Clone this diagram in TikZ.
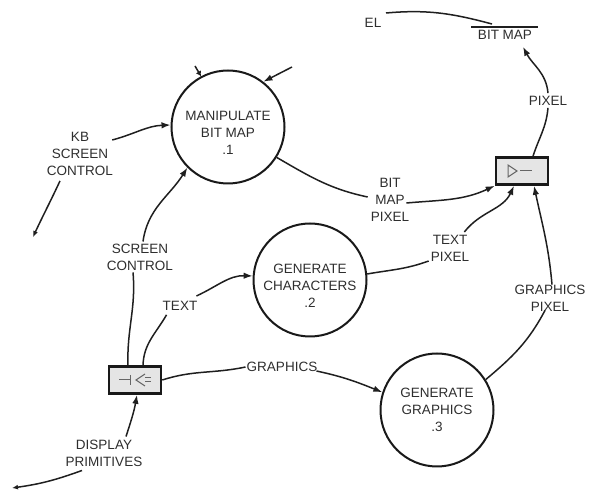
\documentclass[tikz,border=0pt]{standalone}
\usepackage{fontspec}
\setmainfont{Liberation Sans}
\usetikzlibrary{arrows.meta,calc}
\newcommand{\lowerby}{\rule{0pt}{22pt}}
\begin{document}
\begin{tikzpicture}[x=1pt,y=-1pt,
  lbl/.style={font=\fontsize{13.5}{17}\selectfont, align=center, inner sep=1pt, text=black!82},
  proc/.style={circle, draw=black!90, line width=2pt, minimum size=113pt, inner sep=0pt, align=center, text=black!82, font=\fontsize{13.5}{17}\selectfont},
  flow/.style={draw=black!88, line width=1.5pt, -{Latex[length=9pt,width=6.5pt]}},
  plainflow/.style={draw=black!88, line width=1.5pt},
  mux/.style={draw=black!90, line width=2.6pt, fill=black!10, minimum width=52pt, minimum height=27pt, inner sep=0pt},
  sym/.style={draw=black!60, line width=1pt}
]
\useasboundingbox (0,0) rectangle (590,494);

% processes
\node[proc] (c1) at (228,127) {\lowerby MANIPULATE\\BIT MAP\\.1};
\node[proc] (c2) at (310,280) {\lowerby GENERATE\\CHARACTERS\\.2};
\node[proc] (c3) at (437,410) {GENERATE\\GRAPHICS\\.3};

% boxes
\node[mux] (bx2) at (522,171) {};
\node[mux] (bx1) at (135,380) {};
\draw[sym] ($(bx2)+(-14,-6)$) -- ($(bx2)+(-5,0)$) -- ($(bx2)+(-14,6)$) -- cycle;
\draw[sym] ($(bx2)+(-2,0)$) -- ($(bx2)+(10,0)$);
\draw[sym] ($(bx1)+(-16,0)$) -- ($(bx1)+(-5,0)$);
\draw[sym] ($(bx1)+(-5,-5)$) -- ($(bx1)+(-5,5)$);
\draw[sym] ($(bx1)+(10,-6)$) -- ($(bx1)+(1,0)$) -- ($(bx1)+(10,6)$);
\draw[sym] ($(bx1)+(10,-2)$) -- ($(bx1)+(16,-2)$);
\draw[sym] ($(bx1)+(10,2)$) -- ($(bx1)+(16,2)$);

% labels
\node[lbl] (kb) at (80,154) {KB\\SCREEN\\CONTROL};
\node[lbl] (sc) at (140,257) {SCREEN\\CONTROL};
\node[lbl] (tx) at (180,306) {TEXT};
\node[lbl] (gr) at (282,367) {GRAPHICS};
\node[lbl] (dp) at (104,453) {DISPLAY\\PRIMITIVES};
\node[lbl] (bmp) at (390,200) {BIT\\MAP\\PIXEL};
\node[lbl] (tp) at (450,248) {TEXT\\PIXEL};
\node[lbl] (gp) at (550,298) {GRAPHICS\\PIXEL};
\node[lbl] (px) at (548,101) {PIXEL};
\node[lbl] (bm) at (505,35) {BIT MAP};
\node[lbl] (el) at (373,23) {EL};
\draw[plainflow, line width=1.2pt] (471,27) -- (538,27);

% free ends
\coordinate (kbend) at (33,237);
\coordinate (dpend) at (12,488);
\coordinate (elend) at (386,13);
\coordinate (bmstart) at (492,24);
\coordinate (topa) at (292,67);
\coordinate (topb) at (195,66);

% connectors
\draw[flow] (kb.east) ++(-2,-14) to[out=15,in=182] (c1.178);
\draw[flow,-{Latex[length=6pt,width=5pt]}] ($(kb.south)+(-20,4)$) to[out=-115,in=65] (kbend);
\draw[plainflow] ($(bx1.north)+(-7,0)$) to[out=92,in=-85] ($(sc.south)+(-7,1)$);
\draw[flow] ($(sc.north)+(3,-1)$) to[out=82,in=-122] (c1.-135);
\draw[plainflow] ($(bx1.north)+(8,0)$) to[out=88,in=-120] ($(tx.south west)+(5,3)$);
\draw[flow] ($(tx.east)+(-2,-10)$) to[out=25,in=178] (c2.176);
\draw[plainflow] (bx1.east) to[out=18,in=192] (gr.west);
\draw[flow] ($(gr.east)+(-2,4)$) to[out=-12,in=158] (c3.162);
\draw[flow] ($(dp.north)+(22,-2)$) to[out=72,in=-100] ($(bx1.south)+(2,0)$);
\draw[flow,-{Latex[length=6pt,width=5pt]}] ($(dp.south)+(-22,3)$) to[out=200,in=8] (dpend);
\draw[plainflow] (c1.-32) to[out=-30,in=168] ($(bmp.west)+(-2,-3)$);
\draw[flow] ($(bmp.east)+(-4,3)$) to[out=5,in=205] (bx2.south west);
\draw[plainflow] (c2.6) to[out=10,in=200] ($(tp.west)+(-1,13)$);
\draw[flow] ($(tp.east)+(-6,-16)$) to[out=52,in=-115] ($(bx2.south)+(-8,0)$);
\draw[plainflow] (c3.32) to[out=40,in=-118] ($(gp.south)+(-5,-2)$);
\draw[flow] ($(gp.north)+(2,1)$) to[out=95,in=-78] ($(bx2.south)+(12,0)$);
\draw[plainflow] ($(bx2.north)+(11,0)$) to[out=72,in=-95] ($(px.south)+(0,1)$);
\draw[flow] ($(px.north)+(0,-2)$) to[out=95,in=-62] ($(bm.south)+(18,6)$);
\draw[plainflow] (bmstart) to[out=165,in=5] (elend);
\draw[flow] (topa) -- (c1.52);
\draw[flow,-{Latex[length=5pt,width=6pt]}] (topb) -- (c1.118);
\end{tikzpicture}
\end{document}
